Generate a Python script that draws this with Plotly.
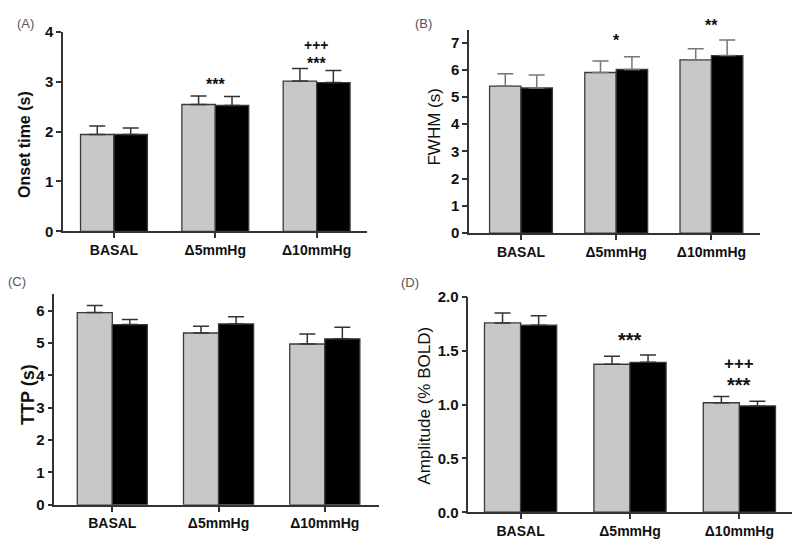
####################################################################################################
##                                   LIBRARIES AND DEPENDENCIES                                   ##
####################################################################################################

import plotly.graph_objs as go


####################################################################################################
##                                             DATA                                               ##
####################################################################################################

categories = ['BASAL', 'Δ5mmHg', 'Δ10mmHg']

# (A) Onset time
onset_grey = [1.94, 2.54, 3.01]
onset_grey_err = [0.17, 0.17, 0.25]
onset_black = [1.94, 2.52, 2.98]
onset_black_err = [0.13, 0.18, 0.24]

# (B) FWHM
fwhm_grey = [5.40, 5.90, 6.36]
fwhm_grey_err = [0.45, 0.42, 0.41]
fwhm_black = [5.33, 6.01, 6.52]
fwhm_black_err = [0.48, 0.47, 0.57]

# (C) TTP
ttp_grey = [5.94, 5.31, 4.97]
ttp_grey_err = [0.22, 0.21, 0.31]
ttp_black = [5.57, 5.59, 5.13]
ttp_black_err = [0.16, 0.22, 0.36]

# (D) Amplitude
amp_grey = [1.76, 1.376, 1.018]
amp_grey_err = [0.093, 0.074, 0.057]
amp_black = [1.739, 1.394, 0.988]
amp_black_err = [0.087, 0.068, 0.045]

# Significance marks: (category, y value, text)
marks_a = [('Δ5mmHg', 3.05, '***'), ('Δ10mmHg', 3.73, '+++'), ('Δ10mmHg', 3.47, '***')]
marks_b = [('Δ5mmHg', 7.27, '*'), ('Δ10mmHg', 7.80, '**')]
marks_d = [('Δ5mmHg', 1.65, '***'), ('Δ10mmHg', 1.387, '+++'), ('Δ10mmHg', 1.234, '***')]


####################################################################################################
##                                      PLOTTING FUNCTIONS                                        ##
####################################################################################################

FONT = 'Arial, Liberation Sans, sans-serif'
AXIS_COLOR = '#333333'
W, H = 800, 552
OFF = 8  # page margin of the html body


def px_x(a, b):
    return [(a - OFF) / W, (b - OFF) / W]


def px_y(top, bottom):
    return [1 - (bottom - OFF) / H, 1 - (top - OFF) / H]


def add_panel(fig, n, grey, grey_err, black, black_err, err_color=AXIS_COLOR):
    xa = 'x' if n == 1 else 'x%d' % n
    ya = 'y' if n == 1 else 'y%d' % n
    for vals, errs, color, offset in [(grey, grey_err, '#c8c8c8', -0.33), (black, black_err, '#000000', 0.0)]:
        fig.add_trace(go.Bar(
            x=categories, y=vals, width=0.33, offset=offset,
            marker=dict(color=color, line=dict(color='#3a3a3a', width=1.3)),
            error_y=dict(type='data', array=errs, arrayminus=[0] * len(errs), symmetric=False,
                         color=err_color, thickness=1.5, width=8),
            xaxis=xa, yaxis=ya, showlegend=False))


def x_axis(domain, anchor, rng):
    return dict(domain=domain, anchor=anchor, range=rng, showline=True, linecolor=AXIS_COLOR, linewidth=1.5,
                ticks='outside', ticklen=5, tickwidth=1.5, tickcolor=AXIS_COLOR, showgrid=False, zeroline=False,
                tickfont=dict(family=FONT, size=14, color='#111', weight='bold'))


def y_axis(domain, anchor, rng, dtick, fmt=None):
    ax = dict(domain=domain, anchor=anchor, range=rng, showline=True, linecolor=AXIS_COLOR, linewidth=1.5,
              ticks='outside', ticklen=5, tickwidth=1.5, tickcolor=AXIS_COLOR, showgrid=False, zeroline=False,
              dtick=dtick, tick0=0, tickfont=dict(family=FONT, size=15, color='#111', weight='bold'))
    if fmt:
        ax['tickformat'] = fmt
    return ax


fig = go.Figure()
add_panel(fig, 1, onset_grey, onset_grey_err, onset_black, onset_black_err)
add_panel(fig, 2, fwhm_grey, fwhm_grey_err, fwhm_black, fwhm_black_err, err_color='#777777')
add_panel(fig, 3, ttp_grey, ttp_grey_err, ttp_black, ttp_black_err)
add_panel(fig, 4, amp_grey, amp_grey_err, amp_black, amp_black_err)

annotations = []


def label(text, x, y, size, bold=False, angle=0, color='#111'):
    annotations.append(dict(text=text, x=(x - OFF) / W, y=1 - (y - OFF) / H, xref='paper', yref='paper',
                            showarrow=False, xanchor='center', yanchor='middle', textangle=angle,
                            font=dict(family=FONT, size=size, color=color, weight='bold' if bold else 'normal')))


# Panel letters
label('(A)', 25, 15, 13, color='#555')
label('(B)', 423, 15, 13, color='#555')
label('(C)', 17, 281, 13, color='#555')
label('(D)', 410, 282, 13, color='#555')

# Y axis titles
label('Onset time (s)', 25, 140, 16, bold=True, angle=-90)
label('FWHM (s)', 435, 121, 17, angle=-90)
label('TTP (s)', 28, 398, 18, bold=True, angle=-90)
label('Amplitude (% BOLD)', 425, 409, 17, angle=-90)


def marks(lst, n, ymax, star_size, plus_size):
    xa = 'x' if n == 1 else 'x%d' % n
    ya = 'y' if n == 1 else 'y%d' % n
    for cat, y, txt in lst:
        star = '*' in txt
        annotations.append(dict(text=txt, x=cat, y=y / ymax, xref=xa, yref=ya + ' domain', showarrow=False,
                                xanchor='center', yanchor='middle', yshift=-5 if star else 0,
                                font=dict(family=FONT, size=star_size if star else plus_size,
                                          color='#111', weight='bold')))


marks(marks_a, 1, 4.0, 16, 14)
marks(marks_b, 2, 7.45, 16, 14)
marks(marks_d, 4, 2.0, 20, 17)

layout = go.Layout(
    width=W, height=H, margin=dict(l=0, r=0, t=0, b=0),
    paper_bgcolor='white', plot_bgcolor='white',
    xaxis=x_axis(px_x(63, 367), 'y', [-0.503, 2.497]),
    yaxis=y_axis(px_y(23, 229.3), 'x', [0, 4], 1),
    xaxis2=x_axis(px_x(469, 760), 'y2', [-0.546, 2.51]),
    yaxis2=y_axis(px_y(21.7, 231), 'x2', [0, 7.45], 1),
    xaxis3=x_axis(px_x(54.3, 379), 'y3', [-0.546, 2.51]),
    yaxis3=y_axis(px_y(294.3, 511.3), 'x3', [0, 6.5], 1),
    xaxis4=x_axis(px_x(468.3, 793), 'y4', [-0.478, 2.49]),
    yaxis4=y_axis(px_y(297, 519), 'x4', [0, 2.0], 0.5, '.1f'),
    annotations=annotations,
    barmode='overlay',
)
fig.update_layout(layout)

fig.write_html("out.html")
